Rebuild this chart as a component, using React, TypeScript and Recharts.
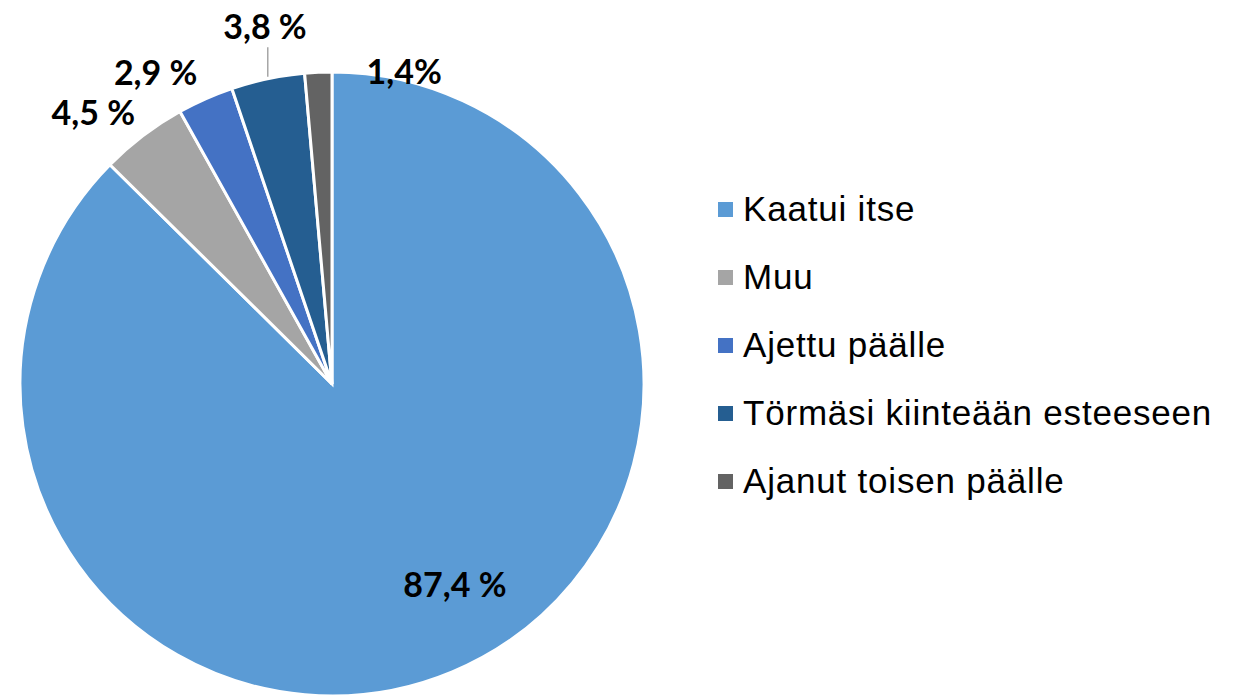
import React from 'react';
import { PieChart, Pie, Cell, Legend } from 'recharts';

// Tapaturmatyyppi (share of cases, %)
const categories = ['Kaatui itse', 'Muu', 'Ajettu päälle', 'Törmäsi kiinteään esteeseen', 'Ajanut toisen päälle'];
const shares = [87.4, 4.5, 2.9, 3.8, 1.4];
const labels = ['87,4 %', '4,5 %', '2,9 %', '3,8 %', '1,4%'];
const colors = ['#5B9BD5', '#A5A5A5', '#4472C4', '#255E91', '#636363'];

const data = categories.map((name, i) => ({ name, value: shares[i], label: labels[i] }));

// label placement relative to the slice (radius factor, angle nudge in degrees)
const labelPlacement = [
  { r: 0.75, da: 9 },
  { r: 1.16, da: 4 },
  { r: 1.15, da: 5.5 },
  { r: 1.17, da: -1.3 },
  { r: 1.03, da: -15.5 },
];

const RADIAN = Math.PI / 180;

const renderLabel = (props: any) => {
  const { cx, cy, midAngle, outerRadius, index } = props;
  const p = labelPlacement[index];
  const a = (midAngle + p.da) * RADIAN;
  const x = cx + outerRadius * p.r * Math.cos(a);
  const y = cy - outerRadius * p.r * Math.sin(a);
  const edgeX = cx + outerRadius * Math.cos(midAngle * RADIAN);
  const edgeY = cy - outerRadius * Math.sin(midAngle * RADIAN);
  return (
    <g>
      {index === 3 && (
        <line x1={edgeX} y1={edgeY - 2} x2={edgeX} y2={y + 22} stroke="#A6A6A6" strokeWidth={1.5} />
      )}
      <text
        x={x}
        y={y}
        textAnchor="middle"
        dominantBaseline="central"
        fontFamily="Lato, 'Noto Sans', sans-serif"
        fontWeight={700}
        fontSize={34}
        fill="#000"
      >
        {data[index].label}
      </text>
    </g>
  );
};

const renderLegend = () => (
  <div style={{ fontFamily: "'Liberation Sans', Arial, sans-serif", fontSize: 35, letterSpacing: 0.8, color: '#000' }}>
    {data.map((d, i) => (
      <div key={d.name} style={{ display: 'flex', alignItems: 'center', height: 68 }}>
        <span style={{ width: 15, height: 15, background: colors[i], marginRight: 10, display: 'inline-block' }} />
        <span style={{ whiteSpace: 'nowrap' }}>{d.name}</span>
      </div>
    ))}
  </div>
);

export default function App() {
  return (
    <div style={{ position: 'absolute', left: 0, top: 0, width: 1239, height: 695, background: '#fff' }}>
      <PieChart width={1239} height={695} margin={{ top: 0, right: 0, bottom: 0, left: 0 }}>
        <Pie
          data={data}
          dataKey="value"
          nameKey="name"
          cx={332}
          cy={384}
          outerRadius={312}
          startAngle={90}
          endAngle={-270}
          stroke="#fff"
          strokeWidth={3}
          label={renderLabel}
          labelLine={false}
          isAnimationActive={false}
        >
          {data.map((d, i) => (
            <Cell key={d.name} fill={colors[i]} />
          ))}
        </Pie>
        <Legend
          content={renderLegend}
          layout="vertical"
          wrapperStyle={{ left: 718, top: 175, width: 520 }}
        />
      </PieChart>
    </div>
  );
}
